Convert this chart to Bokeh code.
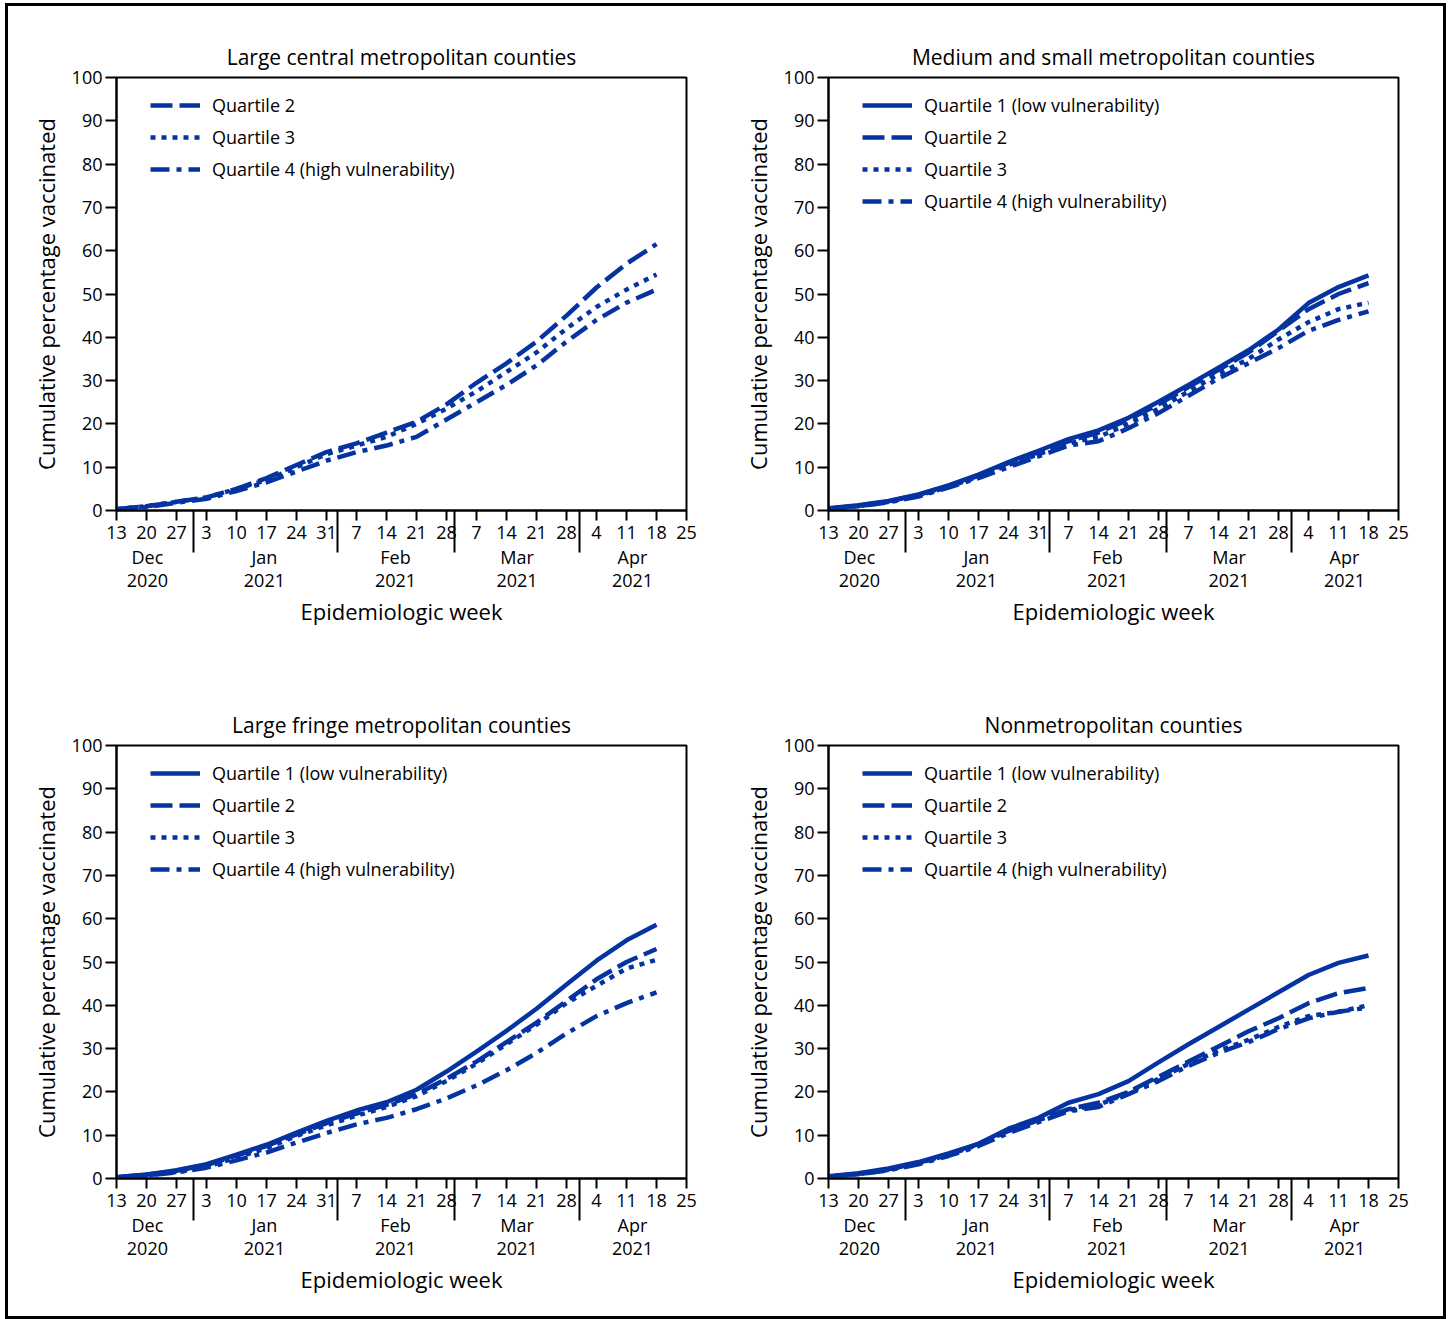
from bokeh.plotting import figure
from bokeh.models import Range1d, FixedTicker, LinearAxis, Legend, LegendItem
from bokeh.layouts import column, row
from bokeh.embed import file_html
from bokeh.resources import INLINE

# ---------------- data ----------------
week_labels = ["13", "20", "27", "3", "10", "17", "24", "31", "7", "14", "21", "28",
               "7", "14", "21", "28", "4", "11", "18", "25"]
month_labels = ["Dec", "Jan", "Feb", "Mar", "Apr"]
year_labels = ["2020", "2021", "2021", "2021", "2021"]

series_names = ["Quartile 1 (low vulnerability)", "Quartile 2", "Quartile 3",
                "Quartile 4 (high vulnerability)"]

panel_titles = ["Large central metropolitan counties",
                "Medium and small metropolitan counties",
                "Large fringe metropolitan counties",
                "Nonmetropolitan counties"]

# Large central metropolitan (no Quartile 1)
lc_q2 = [0.3, 1.0, 2.0, 3.0, 5.0, 7.5, 10.5, 13.5, 15.5, 18.0, 20.5, 24.5, 29.5, 34.0, 39.0, 45.0, 51.5, 57.0, 61.5]
lc_q3 = [0.3, 1.0, 2.0, 3.0, 5.0, 7.0, 10.0, 13.0, 15.0, 17.0, 20.0, 23.5, 27.5, 32.0, 36.5, 42.0, 47.0, 51.0, 54.5]
lc_q4 = [0.3, 0.8, 1.8, 2.7, 4.5, 6.5, 9.0, 11.5, 13.5, 15.0, 17.0, 21.0, 25.0, 29.0, 33.5, 39.0, 44.0, 48.0, 51.0]

# Medium and small metropolitan
ms_q1 = [0.5, 1.2, 2.2, 3.7, 5.8, 8.3, 11.2, 13.8, 16.5, 18.5, 21.4, 25.1, 29.0, 33.0, 37.0, 41.8, 47.9, 51.6, 54.3]
ms_q2 = [0.4, 1.1, 2.1, 3.6, 5.7, 8.0, 11.0, 13.5, 16.0, 18.0, 21.0, 24.5, 28.5, 32.5, 36.5, 41.5, 46.5, 50.0, 52.5]
ms_q3 = [0.4, 1.0, 2.0, 3.4, 5.5, 7.8, 10.5, 13.0, 15.5, 17.0, 20.0, 23.5, 27.5, 31.5, 35.0, 39.5, 43.5, 46.5, 48.0]
ms_q4 = [0.4, 1.0, 1.9, 3.2, 5.3, 7.5, 10.0, 12.5, 15.0, 16.0, 19.0, 22.5, 26.5, 30.5, 34.0, 37.5, 41.5, 44.0, 46.0]

# Large fringe metropolitan
lf_q1 = [0.3, 0.9, 1.9, 3.3, 5.5, 7.8, 10.6, 13.3, 15.7, 17.6, 20.5, 24.7, 29.3, 34.1, 39.2, 44.8, 50.3, 55.0, 58.6]
lf_q2 = [0.3, 0.9, 1.8, 3.1, 5.3, 7.5, 10.2, 12.8, 15.0, 17.0, 19.5, 23.0, 27.0, 31.5, 36.0, 41.0, 46.0, 50.0, 53.0]
lf_q3 = [0.2, 0.7, 1.5, 2.7, 4.8, 7.0, 9.8, 12.3, 14.5, 16.5, 19.0, 22.5, 26.5, 31.0, 35.5, 40.5, 44.5, 48.5, 50.5]
lf_q4 = [0.2, 0.7, 1.4, 2.5, 4.2, 6.0, 8.3, 10.5, 12.5, 14.0, 16.0, 18.5, 21.5, 25.0, 29.0, 33.5, 37.5, 40.5, 43.0]

# Nonmetropolitan
nm_q1 = [0.5, 1.2, 2.3, 3.8, 5.8, 8.0, 11.5, 14.0, 17.5, 19.5, 22.5, 26.8, 31.0, 35.0, 39.0, 43.0, 47.0, 49.8, 51.5]
nm_q2 = [0.4, 1.1, 2.1, 3.6, 5.6, 8.0, 11.0, 13.5, 16.0, 17.5, 20.0, 23.5, 27.0, 30.5, 34.0, 37.0, 40.5, 42.8, 44.0]
nm_q3 = [0.4, 1.0, 2.0, 3.5, 5.5, 7.8, 11.0, 13.5, 15.8, 17.0, 19.8, 23.0, 26.5, 29.5, 32.0, 35.0, 37.5, 38.5, 40.0]
nm_q4 = [0.4, 1.0, 1.9, 3.3, 5.2, 7.5, 10.5, 13.0, 15.5, 16.5, 19.5, 22.5, 26.0, 29.0, 31.5, 34.5, 37.0, 38.5, 39.5]

panels_data = [
    [None, lc_q2, lc_q3, lc_q4],
    [ms_q1, ms_q2, ms_q3, ms_q4],
    [lf_q1, lf_q2, lf_q3, lf_q4],
    [nm_q1, nm_q2, nm_q3, nm_q4],
]

# ---------------- layout / style ----------------
FONT = "Open Sans"
BLUE = "#0533a1"
INK = "black"
DASHES = ["solid", "22 7", "5 6", "19 7 5 7"]
MONTH_POS = [1.03, 4.93, 9.3, 13.35, 17.2]
MONTH_SEP = [2.56, 7.35, 11.28, 15.44]


def make_panel(title, data, bl, bt, br, bb):
    n_ticks = len(week_labels)
    p = figure(frame_width=570, frame_height=433,
               x_range=Range1d(0, n_ticks - 1), y_range=Range1d(0, 100),
               output_backend="svg", toolbar_location=None,
               min_border_left=bl, min_border_top=bt,
               min_border_right=br, min_border_bottom=bb,
               x_axis_location=None, y_axis_location=None)
    p.grid.visible = False
    p.outline_line_color = INK
    p.outline_line_width = 2
    p.outline_line_alpha = 1
    p.background_fill_color = "white"
    p.border_fill_color = "white"

    p.title.text = title
    p.title.align = "center"
    p.title.text_font = FONT
    p.title.text_font_size = "21px"
    p.title.text_font_style = "normal"
    p.title.text_color = INK
    p.title.standoff = 13

    # y axis
    yax = LinearAxis(ticker=FixedTicker(ticks=list(range(0, 101, 10))),
                     axis_label="Cumulative percentage vaccinated")
    yax.axis_line_width = 2
    yax.axis_line_color = INK
    yax.major_tick_line_width = 2
    yax.major_tick_line_color = INK
    yax.major_tick_out = 11
    yax.major_tick_in = 0
    yax.minor_tick_out = 0
    yax.minor_tick_in = 0
    yax.major_label_text_font = FONT
    yax.major_label_text_font_size = "18px"
    yax.major_label_text_color = INK
    yax.major_label_standoff = 3
    yax.axis_label_text_font = FONT
    yax.axis_label_text_font_size = "22px"
    yax.axis_label_text_font_style = "normal"
    yax.axis_label_text_color = INK
    yax.axis_label_standoff = 8
    p.add_layout(yax, "left")

    # x axis: weeks, with month separators as long minor ticks
    xax = LinearAxis(ticker=FixedTicker(ticks=list(range(n_ticks)), minor_ticks=MONTH_SEP))
    xax.major_label_overrides = {i: lab for i, lab in enumerate(week_labels)}
    xax.axis_line_width = 2
    xax.axis_line_color = INK
    xax.major_tick_line_width = 2
    xax.major_tick_line_color = INK
    xax.major_tick_out = 10
    xax.major_tick_in = 0
    xax.minor_tick_line_width = 2
    xax.minor_tick_line_color = INK
    xax.minor_tick_out = 42
    xax.minor_tick_in = 0
    xax.major_label_text_font = FONT
    xax.major_label_text_font_size = "18px"
    xax.major_label_text_color = INK
    xax.major_label_standoff = -27
    p.add_layout(xax, "below")

    # month names
    max_ = LinearAxis(ticker=FixedTicker(ticks=MONTH_POS, minor_ticks=[]))
    max_.major_label_overrides = {pos: lab for pos, lab in zip(MONTH_POS, month_labels)}
    # years
    yrax = LinearAxis(ticker=FixedTicker(ticks=MONTH_POS, minor_ticks=[]),
                      axis_label="Epidemiologic week")
    yrax.major_label_overrides = {pos: lab for pos, lab in zip(MONTH_POS, year_labels)}
    for ax in (max_, yrax):
        ax.axis_line_color = None
        ax.major_tick_line_color = None
        ax.minor_tick_line_color = None
        ax.major_tick_out = 0
        ax.major_tick_in = 0
        ax.minor_tick_out = 0
        ax.minor_tick_in = 0
        ax.major_label_text_font = FONT
        ax.major_label_text_font_size = "18px"
        ax.major_label_text_color = INK
        ax.major_label_standoff = 2
    max_.major_label_standoff = 3
    yrax.axis_label_text_font = FONT
    yrax.axis_label_text_font_size = "22px"
    yrax.axis_label_text_font_style = "normal"
    yrax.axis_label_text_color = INK
    yrax.axis_label_standoff = 6
    p.add_layout(max_, "below")
    p.add_layout(yrax, "below")

    items = []
    for name, ys, dash in zip(series_names, data, DASHES):
        if ys is None:
            continue
        r = p.line(list(range(len(ys))), ys, line_color=BLUE, line_width=4.5,
                   line_dash=dash, line_cap="butt", line_join="round")
        items.append(LegendItem(label=name, renderers=[r]))

    n = len(items)
    row_h, gap = 26, 6
    leg_h = n * row_h + (n - 1) * gap
    leg = Legend(items=items, location=(34, 433 - 15 - leg_h),
                 glyph_width=50, glyph_height=row_h, label_height=row_h,
                 label_width=10, spacing=gap, padding=0, margin=0,
                 label_standoff=12, border_line_color=None,
                 background_fill_alpha=0,
                 label_text_font=FONT, label_text_font_size="18px",
                 label_text_color=INK)
    p.add_layout(leg, "center")
    return p


p1 = make_panel(panel_titles[0], panels_data[0], 108, 71, 34, 164)
p2 = make_panel(panel_titles[1], panels_data[1], 108, 71, 45, 164)
p3 = make_panel(panel_titles[2], panels_data[2], 108, 71, 34, 138)
p4 = make_panel(panel_titles[3], panels_data[3], 108, 71, 45, 138)

layout = column(row(p1, p2), row(p3, p4),
                styles={"border": "3px solid black", "width": "fit-content",
                        "margin": "3px 0 0 5px"})

open("out.html", "w").write(file_html(layout, INLINE))
